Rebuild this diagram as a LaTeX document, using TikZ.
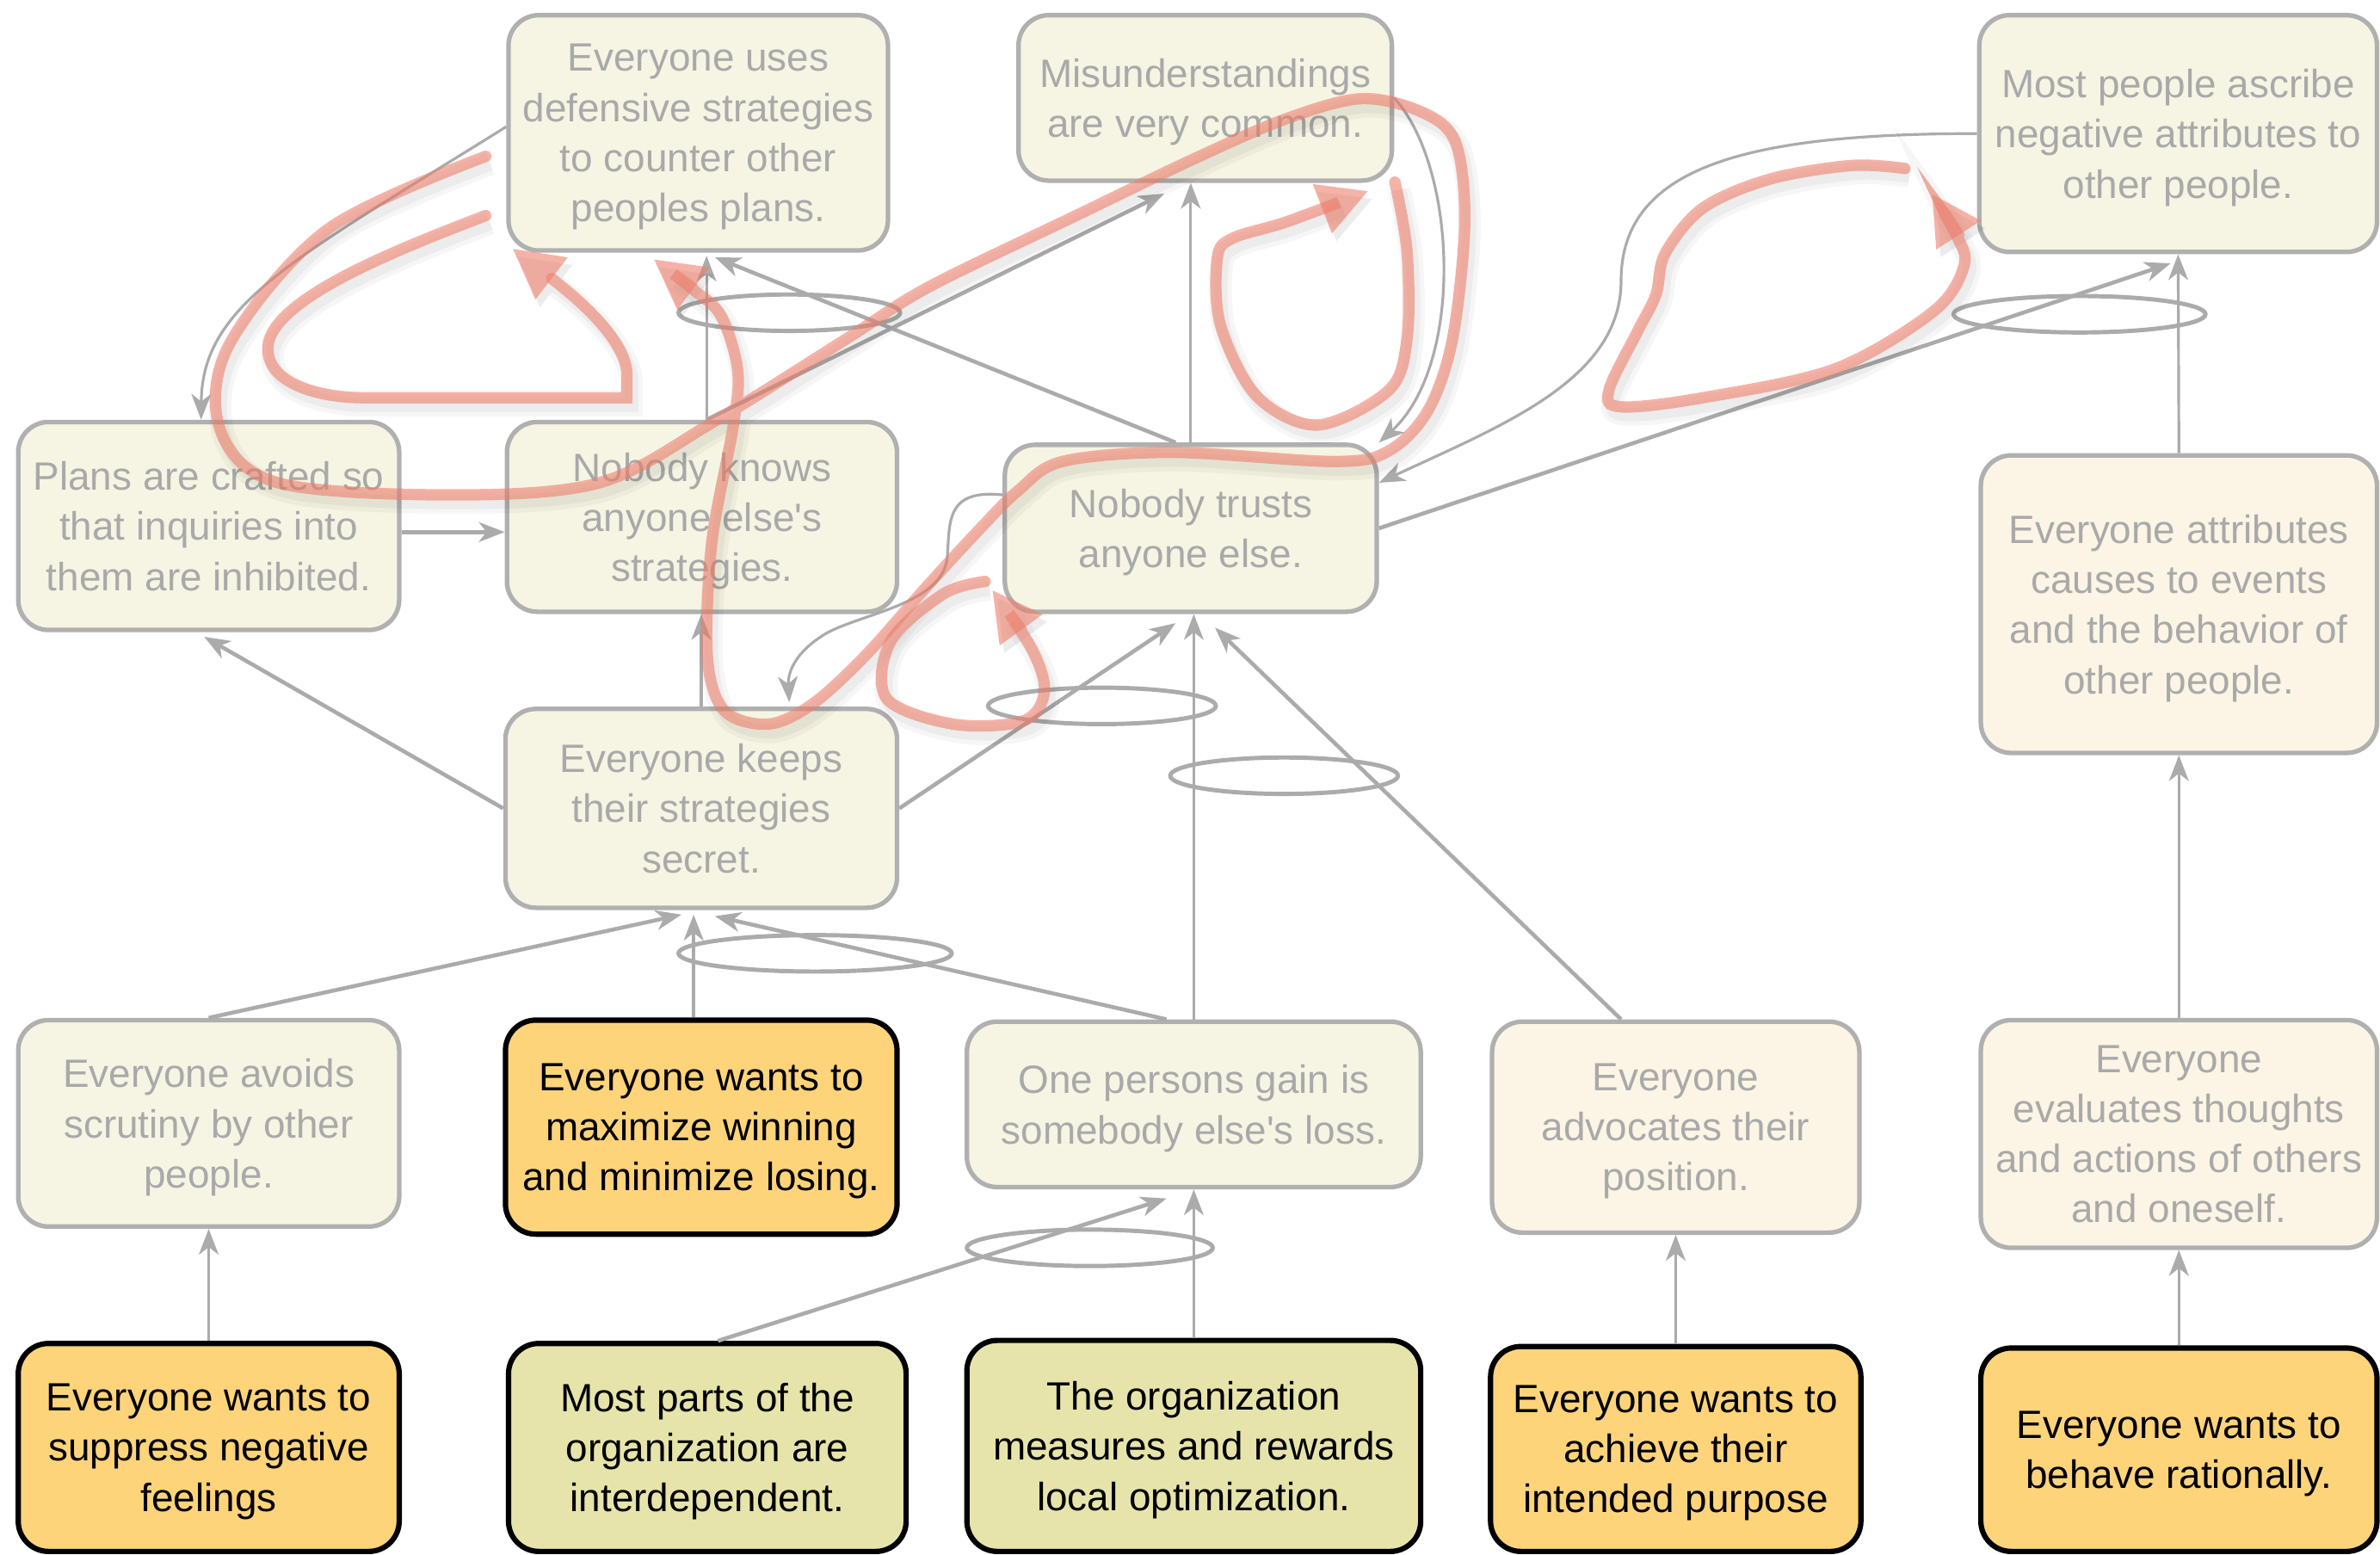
\documentclass[tikz,border=0pt]{standalone}
\usepackage{fontspec}
\setmainfont{Liberation Sans}
\usetikzlibrary{arrows.meta,calc}
\definecolor{cream}{HTML}{F6F5E4}
\definecolor{warmcream}{HTML}{FCF5E5}
\definecolor{edgegray}{HTML}{B0B0B0}
\definecolor{fadetext}{HTML}{A9A9A9}
\definecolor{linkgray}{HTML}{ABABAB}
\definecolor{rootorange}{HTML}{FED47B}
\definecolor{rootgreen}{HTML}{E6E4AA}
\definecolor{loopred}{HTML}{EE7F6C}
\tikzset{fact/.style={draw=edgegray,line width=3pt,fill=cream,text=fadetext,
    rounded corners=20pt,align=center,inner sep=0pt,text depth=0pt,
    font=\fontsize{26pt}{33pt}\selectfont},
  warmfact/.style={fact,fill=warmcream},
  rootbox/.style={fact,draw=black,line width=3.5pt,fill=rootorange,text=black},
  orgbox/.style={rootbox,fill=rootgreen},
  link/.style={draw=linkgray,line width=2.6pt,
    -{Stealth[length=17pt,width=13pt,inset=5pt]}},
  thinlink/.style={link,line width=1.8pt},
  andring/.style={draw=linkgray,line width=2.8pt}}
\tikzset{loopline/.style={draw=loopred,line width=7.5pt,opacity=.6,line cap=round,
    -{Triangle[length=32pt,width=35pt,line width=0pt]},
    preaction={draw=black,opacity=.035,line width=15pt,
      transform canvas={shift={(3pt,-5pt)}}},
    preaction={draw=black,opacity=.04,line width=9pt,
      transform canvas={shift={(3pt,-5pt)}}}}}

\begin{document}
\begin{tikzpicture}[x=1pt,y=-1pt]
    \useasboundingbox (0,0) rectangle (1568,1024);
    %
    % top row
    \node[fact,minimum width=250pt,minimum height=155pt] (defend) at (460,87.5) {Everyone uses\\defensive strategies\\to counter other\\peoples plans.};
    \node[fact,minimum width=246pt,minimum height=109pt] (misund) at (794,64.5) {Misunderstandings\\are very common.};
    \node[fact,minimum width=262pt,minimum height=156pt] (ascribe) at (1435,88) {Most people ascribe\\negative attributes to\\other people.};
    % second row
    \node[fact,minimum width=251pt,minimum height=137pt] (plans) at (137.5,346.5) {Plans are crafted so\\that inquiries into\\them are inhibited.};
    \node[fact,minimum width=257pt,minimum height=125pt] (knows) at (462.5,340.5) {Nobody knows\\anyone else\textquotesingle s\\strategies.};
    \node[fact,minimum width=245pt,minimum height=110pt] (trust) at (784.5,348) {Nobody trusts\\anyone else.};
    \node[warmfact,minimum width=261pt,minimum height=196pt] (attrib) at (1435.5,398) {Everyone attributes\\causes to events\\and the behavior of\\other people.};
    \node[fact,minimum width=258pt,minimum height=131pt] (secret) at (462,532.5) {Everyone keeps\\their strategies\\secret.};
    % fourth row
    \node[fact,minimum width=251pt,minimum height=136pt] (avoid) at (137.5,740) {Everyone avoids\\scrutiny by other\\people.};
    \node[rootbox,minimum width=258pt,minimum height=141pt] (winlose) at (462,742.5) {Everyone wants to\\maximize winning\\and minimize losing.};
    \node[fact,minimum width=299pt,minimum height=109pt] (gainloss) at (786.5,727.5) {One persons gain is\\somebody else\textquotesingle s loss.};
    \node[warmfact,minimum width=242pt,minimum height=139pt] (advocate) at (1104,742.5) {Everyone\\advocates their\\position.};
    \node[warmfact,minimum width=261pt,minimum height=150pt] (evaluate) at (1435.5,747) {Everyone\\evaluates thoughts\\and actions of others\\and oneself.};
    % root causes
    \node[rootbox,minimum width=251pt,minimum height=137pt] (suppress) at (137.5,953.5) {Everyone wants to\\suppress negative\\feelings};
    \node[orgbox,minimum width=262pt,minimum height=137pt] (interdep) at (466,953.5) {Most parts of the\\organization are\\interdependent.};
    \node[orgbox,minimum width=299pt,minimum height=139pt] (localopt) at (786.5,952.5) {The organization\\measures and rewards\\local optimization.};
    \node[rootbox,minimum width=244pt,minimum height=135pt] (purpose) at (1104,954.5) {Everyone wants to\\achieve their\\intended purpose};
    \node[rootbox,minimum width=261pt,minimum height=134pt] (rational) at (1435.5,955) {Everyone wants to\\behave rationally.};
    %
    % straight links
    \draw[link] (avoid.north) -- ([xshift=-13pt,yshift=-3pt]secret.south);
    \draw[link] ([xshift=-5pt]winlose.north) -- ([xshift=-5pt,yshift=-3pt]secret.south);
    \draw[link] ([xshift=-18pt]gainloss.north) -- ([xshift=9pt,yshift=-4pt]secret.south);
    \draw[thinlink] (gainloss.north) -- (gainloss.north |- trust.south);
    \draw[link] (secret.east) -- ([xshift=-10pt,yshift=-6pt]trust.south);
    \draw[link] ([xshift=-36pt]advocate.north) -- ([xshift=16pt,yshift=-9pt]trust.south);
    \draw[link] (secret.west) -- ([xshift=-3pt,yshift=-3pt]plans.south);
    \draw[thinlink] (secret.north) -- (secret.north |- knows.south);
    \draw[link] ([yshift=-4pt]plans.east) -- ($(plans.east -| knows.west)+(0,4)$);
    \draw[thinlink] ([xshift=3pt]knows.north) -- ($(knows.north |- defend.south)+(3,2)$);
    \draw[link] ([xshift=-10pt]trust.north) -- ([xshift=11pt,yshift=-3pt]defend.south);
    \draw[link] ([xshift=3pt]knows.north) -- ([xshift=-27pt,yshift=-7pt]misund.south);
    \draw[thinlink] (trust.north) -- (trust.north |- misund.south);
    \draw[link] (trust.east) -- ([xshift=-5pt,yshift=-6pt]ascribe.south);
    \foreach \From/\To in {attrib/ascribe,evaluate/attrib,rational/evaluate,purpose/advocate,suppress/avoid,localopt/gainloss}
        {\draw[thinlink] (\From.north) -- (\To.south);}
    \draw[link] ([xshift=7pt]interdep.north) -- ([xshift=-18pt,yshift=-6pt]gainloss.south);
    % curved links
    \draw[thinlink] ([yshift=4pt]defend.west) .. controls (195,170) and (133,200) .. ([xshift=-5pt]plans.north);
    \draw[thinlink] (misund.east) .. controls (960,110) and (965,240) .. (trust.north east);
    \draw[thinlink] (ascribe.west) .. controls (1150,88) and (1068,110) .. (1068,185)
        .. controls (1068,250) and (990,280) .. ([yshift=30pt]trust.east);
    \draw[thinlink] ([yshift=22pt]trust.west) .. controls (622,322) and (626,345) .. (624,368)
        .. controls (620,400) and (560,405) .. (540,420)
        .. controls (522,432) and (519,445) .. ([xshift=58pt,yshift=3pt]secret.north);
    % and-rings
    \foreach \X/\Y/\R in {520/206/73,537/628/90,726/465/75,846/511/75,718/822/81,1370/207/83}
        {\draw[andring] (\X,\Y) ellipse [x radius=\R,y radius=12];}
    %
    % feedback loops
    \draw[loopline] (320,142) .. controls (260,165) and (185,195) .. (177,225)
        .. controls (172,250) and (205,262) .. (240,262) -- (413,262) -- (413,246)
        .. controls (412,225) and (385,200) .. (338,164);
    \draw[loopline] plot[smooth,tension=.55] coordinates {(320,103) (216,151) (151,227) (145,283) (183,318) (297,326) (395,318) (470,278) (558,223) (612,189) (709,142) (788,104) (848,78) (897,65) (937,74) (959,94) (965,147) (957,223) (941,270) (915,297) (879,304) (772,298) (700,304) (671,323) (645,349) (610,387) (570,432) (535,464) (506,477) (477,468) (466,432) (469,357) (483,281) (486,244) (475,208) (457,191) (431,171)};
    \draw[loopline] plot[smooth,tension=.55] coordinates {(919,120) (927,166) (927,223) (915,257) (868,280) (828,261) (804,214) (802,170) (812,157) (848,146) (901,126)};
    \draw[loopline] plot[smooth,tension=.55] coordinates {(649,383) (622,391) (587,422) (584,460) (628,477) (674,475) (688,456) (680,428) (654,389)};
    \draw[loopline] plot[smooth,tension=.55] coordinates {(1255,111) (1220,109) (1166,118) (1122,137) (1097,167) (1091,194) (1079,218) (1060,257) (1068,268) (1122,262) (1209,243) (1274,205) (1294,175) (1289,155) (1273,128)};
\end{tikzpicture}
\end{document}
